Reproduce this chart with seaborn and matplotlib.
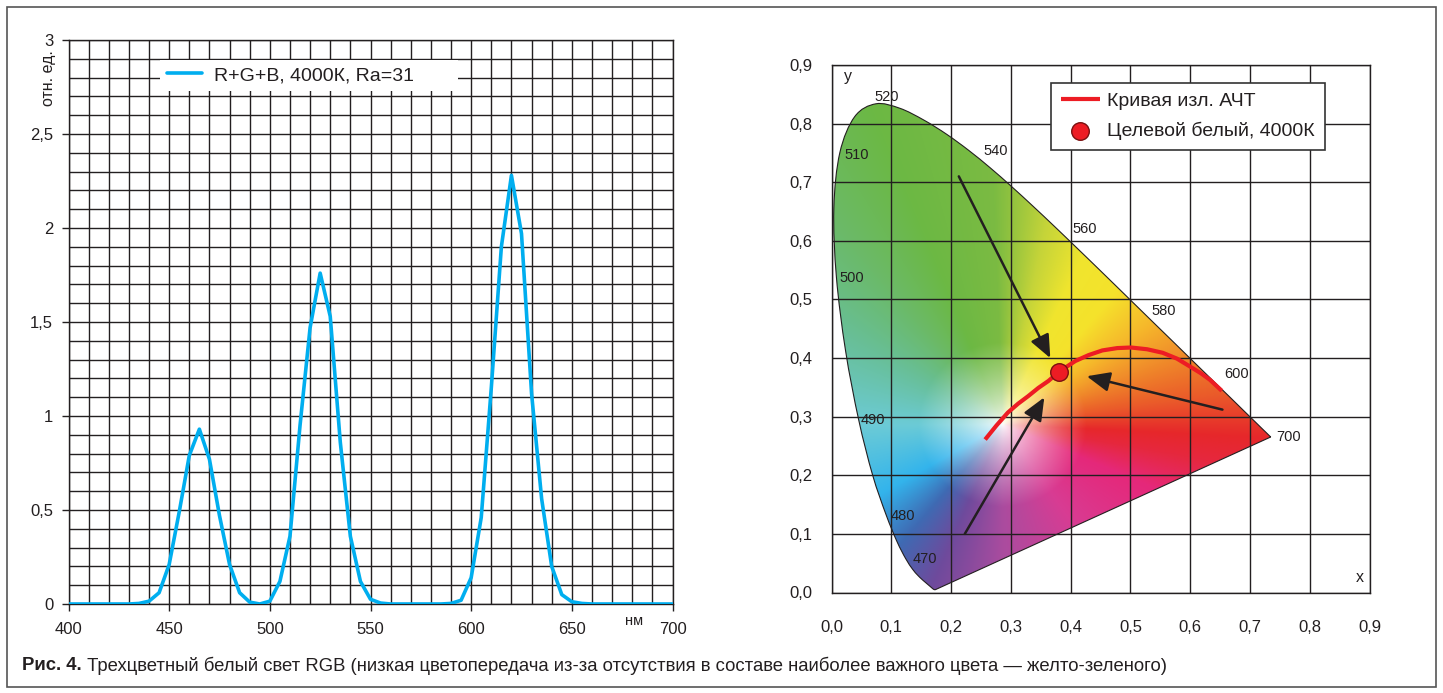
import numpy as np
import matplotlib
matplotlib.use("Agg")
import matplotlib.pyplot as plt
import seaborn as sns
from matplotlib.patches import PathPatch, Rectangle
from matplotlib.path import Path
from matplotlib.ticker import MultipleLocator, FuncFormatter
from matplotlib.colors import to_rgb
from matplotlib import font_manager

# ---- спектр R+G+B (отн. ед.)
wavelength_nm = list(range(400, 705, 5))
rgb_intensity = [0, 0, 0, 0, 0, 0, 0,
                 0.003, 0.015, 0.06, 0.21, 0.49, 0.79, 0.93, 0.77, 0.47, 0.21, 0.06, 0.01, 0.0,
                 0.015, 0.12, 0.36, 0.95, 1.47, 1.76, 1.53, 0.86, 0.36, 0.12, 0.025, 0.005,
                 0, 0, 0, 0, 0, 0,
                 0.003, 0.02, 0.14, 0.46, 1.15, 1.90, 2.28, 1.97, 1.12, 0.56, 0.20, 0.05, 0.012, 0.003,
                 0, 0, 0, 0, 0, 0, 0, 0, 0]
spectrum_label = "R+G+B, 4000К, Ra=31"

# ---- локус CIE 1931
locus_nm = [380, 400, 420, 430, 440, 450, 455, 460, 465, 470, 475, 480, 485, 490, 495, 500,
            505, 510, 515, 520, 525, 530, 535, 540, 545, 550, 555, 560, 565, 570, 575, 580,
            585, 590, 595, 600, 605, 610, 620, 630, 640, 650, 660, 680, 700]
locus_x = [0.1741, 0.1733, 0.1714, 0.1689, 0.1644, 0.1566, 0.1510, 0.1440, 0.1355, 0.1241,
           0.1096, 0.0913, 0.0687, 0.0454, 0.0235, 0.0082, 0.0039, 0.0139, 0.0389, 0.0743,
           0.1142, 0.1547, 0.1929, 0.2296, 0.2658, 0.3016, 0.3373, 0.3731, 0.4087, 0.4441,
           0.4788, 0.5125, 0.5448, 0.5752, 0.6029, 0.6270, 0.6482, 0.6658, 0.6915, 0.7079,
           0.7190, 0.7260, 0.7300, 0.7334, 0.7347]
locus_y = [0.0050, 0.0048, 0.0051, 0.0069, 0.0109, 0.0177, 0.0227, 0.0297, 0.0399, 0.0578,
           0.0868, 0.1327, 0.2007, 0.2950, 0.4127, 0.5384, 0.6548, 0.7502, 0.8120, 0.8338,
           0.8262, 0.8059, 0.7816, 0.7543, 0.7243, 0.6923, 0.6589, 0.6245, 0.5896, 0.5547,
           0.5202, 0.4866, 0.4544, 0.4242, 0.3965, 0.3725, 0.3514, 0.3340, 0.3083, 0.2920,
           0.2809, 0.2740, 0.2700, 0.2666, 0.2653]

# подписи длин волн
tag_text = ["520", "510", "540", "560", "580", "600", "700", "500", "490", "480", "470"]
tag_x = [0.093, 0.042, 0.274, 0.424, 0.556, 0.677, 0.764, 0.034, 0.069, 0.120, 0.157]
tag_y = [0.845, 0.747, 0.753, 0.621, 0.481, 0.372, 0.265, 0.536, 0.294, 0.131, 0.058]

# кривая излучения АЧТ
planck_x = [0.257, 0.276, 0.295, 0.312, 0.329, 0.346, 0.363, 0.381, 0.408, 0.430, 0.453,
            0.478, 0.501, 0.528, 0.554, 0.578, 0.599, 0.618, 0.633, 0.653]
planck_y = [0.261, 0.285, 0.307, 0.322, 0.335, 0.349, 0.361, 0.377, 0.395, 0.405, 0.413,
            0.417, 0.418, 0.415, 0.409, 0.399, 0.386, 0.374, 0.363, 0.344]

# целевой белый 4000К
target_x = [0.381]
target_y = [0.377]

# стрелки
arrow_x0 = [0.213, 0.654, 0.223]
arrow_y0 = [0.710, 0.312, 0.100]
arrow_x1 = [0.366, 0.427, 0.356]
arrow_y1 = [0.400, 0.369, 0.333]

caption_bold = "Рис. 4."
caption_rest = " Трехцветный белый свет RGB (низкая цветопередача из-за отсутствия в составе наиболее важного цвета — желто-зеленого)"

sns.set_theme(style="white")
installed = {f.name for f in font_manager.fontManager.ttflist}
REGULAR = ["Liberation Sans", "DejaVu Sans"]
NARROW = (["Liberation Sans Narrow"] if "Liberation Sans Narrow" in installed else []) + REGULAR
plt.rcParams["font.family"] = NARROW
INK = "#231f20"
plt.rcParams["text.color"] = INK
plt.rcParams["xtick.color"] = INK
plt.rcParams["ytick.color"] = INK

fig = plt.figure(figsize=(14.43, 6.93), dpi=100)
ax1 = fig.add_axes([68.5 / 1443, 1 - 604 / 693, (672.5 - 68.5) / 1443, (604 - 40) / 693])
ax2 = fig.add_axes([831.5 / 1443, 1 - 592.5 / 693, (1369.5 - 831.5) / 1443, (592.5 - 65) / 693])

# ---------- левая панель: спектр
sns.lineplot(x=wavelength_nm, y=rgb_intensity, ax=ax1, color="#00aeef", lw=2.6,
             label=spectrum_label, zorder=4)
ax1.set_xlim(400, 700)
ax1.set_ylim(0, 3)
ax1.xaxis.set_major_locator(MultipleLocator(50))
ax1.xaxis.set_minor_locator(MultipleLocator(10))
ax1.yaxis.set_major_locator(MultipleLocator(0.5))
ax1.yaxis.set_minor_locator(MultipleLocator(0.1))
ax1.yaxis.set_major_formatter(FuncFormatter(lambda v, p: f"{v:g}".replace(".", ",")))
ax1.grid(which="both", color=INK, lw=1.0)
ax1.set_axisbelow(True)
ax1.tick_params(which="major", direction="out", length=5, width=1, color=INK, labelsize=12,
                bottom=True, left=True)
ax1.tick_params(axis="x", pad=8)
ax1.tick_params(axis="y", pad=6)
ax1.tick_params(which="minor", length=0)
for s in ax1.spines.values():
    s.set_color(INK)
    s.set_linewidth(1.0)
ax1.set_xlabel("")
ax1.set_ylabel("")
leg1 = ax1.legend(loc="upper left", bbox_to_anchor=(0.151, 0.906, 0.494, 0.059), mode="expand",
                  borderaxespad=0, frameon=True, fancybox=False, framealpha=1, edgecolor="none",
                  handlelength=1.8, handletextpad=0.65, borderpad=0.35,
                  prop={"family": REGULAR, "size": 14})
fig.text(49 / 1443, 1 - 78 / 693, "отн. ед.", rotation=90, ha="center", va="center",
         family=REGULAR, fontsize=11.5)
fig.text(634 / 1443, 1 - 621 / 693, "нм", ha="center", va="center", fontsize=10.5)

# ---------- правая панель: цветовой график
gx = np.linspace(0, 0.75, 500)
gy = np.linspace(0, 0.85, 560)
GX, GY = np.meshgrid(gx, gy)
wx, wy = 0.285, 0.285
ang = np.degrees(np.arctan2(GY - wy, GX - wx))
dist = np.hypot(GX - wx, GY - wy)
anchor_deg = [-180, -150, -130, -113, -90, -55, -23, -10, -3, 8, 22, 35, 50, 65, 78, 92, 112, 130, 150, 180]
anchor_hex = ["#6ccbd6", "#33b4ec", "#3f6ab3", "#6f4a9c", "#aa4c9f", "#d83c93", "#e5287a",
              "#e6283e", "#e6272b", "#ea5a2a", "#f08c2a", "#f6b82b", "#f5e22b", "#f0e52e",
              "#c5d439", "#7bbb42", "#6cb844", "#6bba6a", "#68bf98", "#6ccbd6"]
anchor_rgb = np.array([to_rgb(c) for c in anchor_hex])
edge = np.stack([np.interp(ang, anchor_deg, anchor_rgb[:, k]) for k in range(3)], axis=-1)
t = np.clip(dist / 0.14, 0, 1) ** 0.7
img = 1 - t[..., None] * (1 - edge)
im = ax2.imshow(img, extent=(0, 0.75, 0, 0.85), origin="lower", aspect="auto",
                interpolation="bilinear", zorder=0.5)

# гладкий контур локуса (Безье через точки)
pts = np.column_stack([locus_x, locus_y])
verts, codes = [pts[0]], [Path.MOVETO]
for i in range(len(pts) - 1):
    p0 = pts[i - 1] if i > 0 else pts[i]
    p1, p2 = pts[i], pts[i + 1]
    p3 = pts[i + 2] if i + 2 < len(pts) else pts[i + 1]
    verts += [p1 + (p2 - p0) / 6, p2 - (p3 - p1) / 6, p2]
    codes += [Path.CURVE4] * 3
verts += [pts[0], pts[0]]
codes += [Path.LINETO, Path.CLOSEPOLY]
locus = PathPatch(Path(verts, codes), facecolor="none", edgecolor=INK, lw=0.8, zorder=2.6)
ax2.add_patch(locus)
im.set_clip_path(locus)

ax2.set_xlim(0, 0.9)
ax2.set_ylim(0, 0.9)
ax2.xaxis.set_major_locator(MultipleLocator(0.1))
ax2.yaxis.set_major_locator(MultipleLocator(0.1))
fmt = FuncFormatter(lambda v, p: f"{v:.1f}".replace(".", ","))
ax2.xaxis.set_major_formatter(fmt)
ax2.yaxis.set_major_formatter(fmt)
ax2.grid(color=INK, lw=1.0)
ax2.set_axisbelow(False)
ax2.tick_params(length=0, labelsize=12)
ax2.tick_params(axis="x", pad=20)
ax2.tick_params(axis="y", pad=14)
for s in ax2.spines.values():
    s.set_color(INK)
    s.set_linewidth(1.0)

for txt, tx, ty in zip(tag_text, tag_x, tag_y):
    ax2.text(tx, ty, txt, ha="center", va="center", family=REGULAR, fontsize=10.5, zorder=5)
ax2.text(0.027, 0.88, "y", ha="center", va="center", family=REGULAR, fontsize=11.5)
ax2.text(0.883, 0.026, "x", ha="center", va="center", family=REGULAR, fontsize=11.5)

for x0, y0, x1, y1 in zip(arrow_x0, arrow_y0, arrow_x1, arrow_y1):
    ax2.annotate("", xy=(x1, y1), xytext=(x0, y0),
                 arrowprops=dict(arrowstyle="-|>,head_length=0.7,head_width=0.3", color=INK,
                                 lw=1.8, shrinkA=0, shrinkB=0, mutation_scale=20), zorder=4)

sns.lineplot(x=planck_x, y=planck_y, ax=ax2, sort=False, color="#ed1c24", lw=3,
             label="Кривая изл. АЧТ", zorder=5, solid_capstyle="butt", solid_joinstyle="round")
sns.scatterplot(x=target_x, y=target_y, ax=ax2, s=160, color="#ed1c24", edgecolor="#7a1010",
                linewidth=1.0, label="Целевой белый, 4000К", zorder=6)
ax2.set_xlabel("")
ax2.set_ylabel("")
leg2 = ax2.legend(loc="upper left", bbox_to_anchor=(0.408, 0.966), borderaxespad=0,
                  frameon=True, fancybox=False, framealpha=1, edgecolor="#333333",
                  handlelength=2.0, handletextpad=0.4, borderpad=0.5, labelspacing=0.6,
                  prop={"family": REGULAR, "size": 14})
leg2.get_frame().set_linewidth(1.2)
leg2.set_zorder(10)

# ---------- рамка и подпись
fig.patches.append(Rectangle((7 / 1443, 1 - 687 / 693), 1429 / 1443, 680 / 693,
                             transform=fig.transFigure, fill=False, edgecolor="#555555", lw=1.2))
t1 = fig.text(22 / 1443, 1 - 666 / 693, caption_bold, ha="left", va="center",
              fontsize=13.3, fontweight="bold")
fig.canvas.draw()
bb = t1.get_window_extent()
fig.text(bb.x1 / fig.bbox.width, 1 - 666 / 693, caption_rest, ha="left", va="center", fontsize=13.3)

fig.savefig("out.png", dpi=100)
